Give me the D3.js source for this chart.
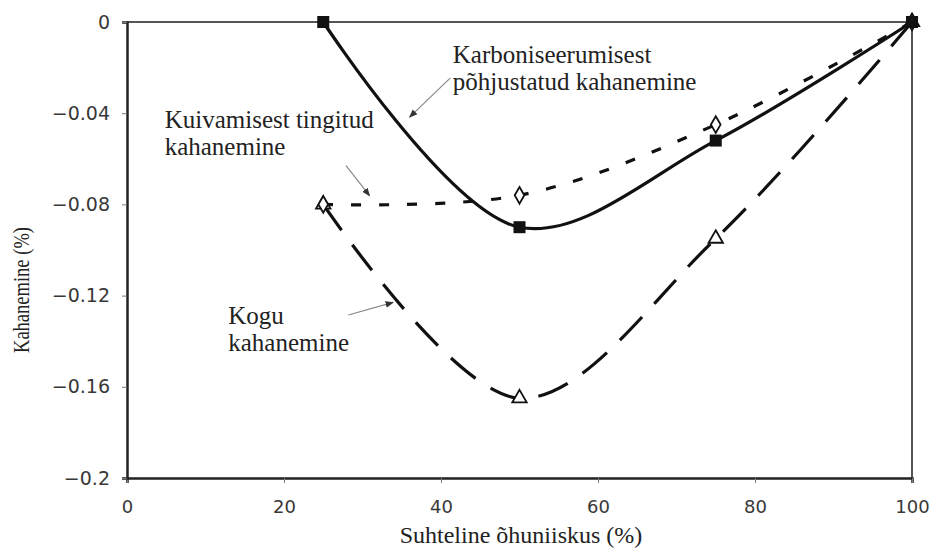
<!DOCTYPE html>
<html>
<head>
<meta charset="utf-8">
<script src="https://cdn.jsdelivr.net/npm/d3@7"></script>
<style>
  body { margin: 0; background: #fff; }
  .tick text { font-family: "DejaVu Sans", sans-serif; fill: #383838; }
  .note { font-family: "Liberation Serif", "Times New Roman", serif; font-size: 25px; fill: #222; }
  .title { font-family: "Liberation Serif", "Times New Roman", serif; font-size: 24px; fill: #222; }
</style>
</head>
<body>
<div id="chart"></div>
<script>
// relative humidity (%)
const humidity = [25, 50, 75, 100]
// shrinkage (%) per series
const carbonation = [0, -0.09, -0.052, 0]
const drying = [-0.08, -0.076, -0.045, 0]
const total = [-0.08, -0.165, -0.095, 0]

const xTicks = [0, 20, 40, 60, 80, 100]
const yTicks = [0, -0.04, -0.08, -0.12, -0.16, -0.2]

const width = 938, height = 553
const margin = { top: 22, right: 26, bottom: 75, left: 127 }

const svg = d3.select('#chart')
  .append('svg')
  .attr('width', width)
  .attr('height', height)

const x = d3.scaleLinear()
  .domain([0, 100])
  .range([margin.left, width - margin.right])
const y = d3.scaleLinear()
  .domain([-0.2, 0])
  .range([height - margin.bottom, margin.top])

// frame (top + right)
svg.append('path')
  .attr('d', `M${x(0)},${y(0)}H${x(100)}V${y(-0.2)}`)
  .attr('fill', 'none')
  .attr('stroke', '#555')
  .attr('stroke-width', 2)

// axes
const fmt = d => d === 0 ? '0' : d3.format('.2~f')(d).replace('-', '\u2212')
const xAxis = svg.append('g')
  .attr('transform', `translate(0, ${y(-0.2)})`)
  .call(d3.axisBottom(x).tickValues(xTicks).tickSize(5).tickPadding(17).tickFormat(d3.format('d')))
xAxis.selectAll('.tick text').style('font-size', '18px')
const yAxis = svg.append('g')
  .attr('transform', `translate(${x(0)}, 0)`)
  .call(d3.axisLeft(y).tickValues(yTicks).tickSize(5).tickPadding(12).tickFormat(fmt))
yAxis.selectAll('.tick text').style('font-size', '19px')
;[xAxis, yAxis].forEach(g => {
  g.select('.domain').attr('stroke', '#222').attr('stroke-width', 2.5)
  g.selectAll('.tick line').attr('stroke', '#777')
})

// curves
const series = [
  { name: 'carbonation', values: carbonation, dash: null },
  { name: 'drying', values: drying, dash: '10,18' },
  { name: 'total', values: total, dash: '32,18' }
]
const line = d3.line()
  .curve(d3.curveCatmullRom.alpha(0.5))
  .x(d => x(d[0]))
  .y(d => y(d[1]))

series.forEach(s => {
  svg.append('path')
    .datum(humidity.map((h, i) => [h, s.values[i]]))
    .attr('class', 'line ' + s.name)
    .attr('fill', 'none')
    .attr('stroke', '#111')
    .attr('stroke-width', 3.2)
    .attr('stroke-dasharray', s.dash)
    .attr('d', line)
})

// markers
const tri = d3.symbol().type(d3.symbolTriangle).size(90)
const dia = d3.symbol().type(d3.symbolDiamond).size(80)
svg.append('g').selectAll('path')
  .data(humidity.map((h, i) => [h, total[i]]))
  .join('path')
  .attr('transform', d => `translate(${x(d[0])}, ${y(d[1])})`)
  .attr('d', tri)
  .attr('fill', '#fff')
  .attr('stroke', '#111')
  .attr('stroke-width', 1.8)
svg.append('g').selectAll('path')
  .data(humidity.map((h, i) => [h, drying[i]]))
  .join('path')
  .attr('transform', d => `translate(${x(d[0])}, ${y(d[1])})`)
  .attr('d', dia)
  .attr('fill', '#fff')
  .attr('stroke', '#111')
  .attr('stroke-width', 1.8)
svg.append('g').selectAll('rect')
  .data(humidity.map((h, i) => [h, carbonation[i]]))
  .join('rect')
  .attr('x', d => x(d[0]) - 6)
  .attr('y', d => y(d[1]) - 6)
  .attr('width', 12)
  .attr('height', 12)
  .attr('fill', '#111')

// annotations
const notes = [
  { lines: ['Karboniseerumisest', 'põhjustatud kahanemine'], at: [41.5, -0.018] },
  { lines: ['Kuivamisest tingitud', 'kahanemine'], at: [4.8, -0.0465] },
  { lines: ['Kogu', 'kahanemine'], at: [12.9, -0.1325] }
]
notes.forEach(n => {
  const t = svg.append('text')
    .attr('class', 'note')
    .attr('x', x(n.at[0]))
    .attr('y', y(n.at[1]))
  n.lines.forEach((l, i) => {
    t.append('tspan')
      .attr('x', x(n.at[0]))
      .attr('dy', i === 0 ? 0 : 27)
      .text(l)
  })
})

// arrows: [from, to] in data units
const arrows = [
  [[41.2, -0.0245], [36, -0.0417]],
  [[27.9, -0.063], [30.9, -0.0762]],
  [[28.2, -0.1285], [33.9, -0.123]]
]
svg.append('defs').append('marker')
  .attr('id', 'head')
  .attr('viewBox', '0 0 10 10')
  .attr('refX', 9).attr('refY', 5)
  .attr('markerWidth', 7).attr('markerHeight', 7)
  .attr('orient', 'auto')
  .append('path')
  .attr('d', 'M0,1L10,5L0,9Z')
  .attr('fill', '#333')
arrows.forEach(a => {
  svg.append('line')
    .attr('x1', x(a[0][0])).attr('y1', y(a[0][1]))
    .attr('x2', x(a[1][0])).attr('y2', y(a[1][1]))
    .attr('stroke', '#888')
    .attr('stroke-width', 1.2)
    .attr('marker-end', 'url(#head)')
})

// axis titles
svg.append('text')
  .attr('class', 'title')
  .attr('text-anchor', 'middle')
  .attr('x', 521)
  .attr('y', 543)
  .text('Suhteline õhuniiskus (%)')
svg.append('text')
  .attr('class', 'title')
  .attr('text-anchor', 'middle')
  .attr('textLength', 126)
  .attr('lengthAdjust', 'spacingAndGlyphs')
  .attr('transform', `translate(29, 290) rotate(-90)`)
  .text('Kahanemine (%)')
</script>
</body>
</html>
